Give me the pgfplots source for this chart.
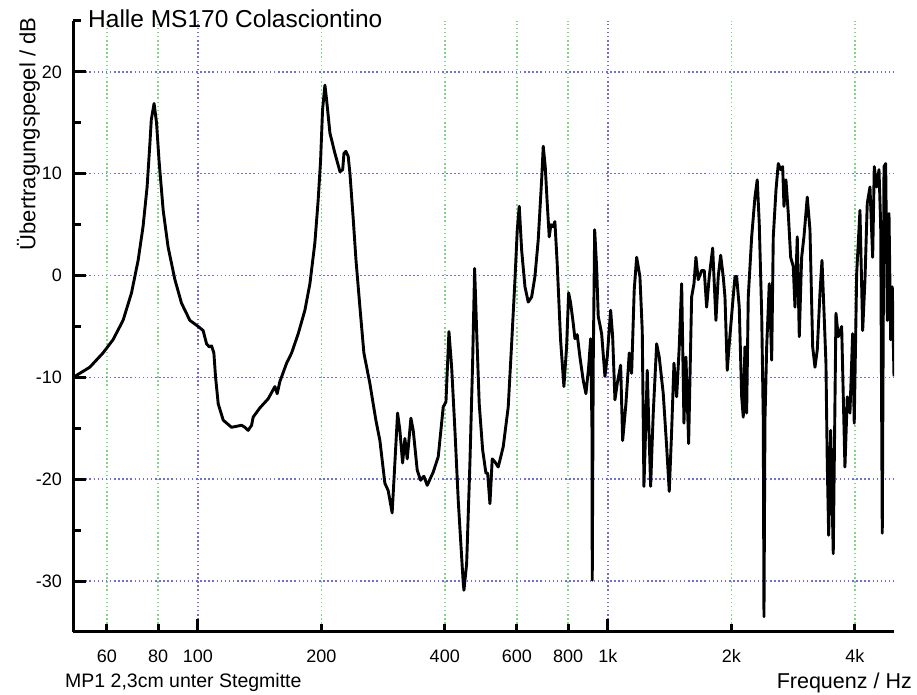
\documentclass[border=0pt]{standalone}
\usepackage{fontspec}
\setmainfont{Liberation Sans}
\usepackage{pgfplots}
\pgfplotsset{compat=1.18}
\definecolor{gridblue}{RGB}{110,110,225}
\definecolor{gridgreen}{RGB}{130,215,130}
\begin{document}
\begin{tikzpicture}
\useasboundingbox (-73pt,-63pt) rectangle (844pt,632pt);
\begin{axis}[
  at={(0pt,0pt)}, anchor=south west,
  scale only axis, width=821pt, height=611pt,
  xmode=log, xmin=49.6, xmax=4985, ymin=-35, ymax=25,
  axis x line=bottom, axis y line=left,
  axis line style={-, line width=3pt, black},
  tick align=inside,
  tick style={line width=3pt, black},
  major tick length=13pt, minor tick length=8pt,
  xtick={100,1000}, xticklabels={100,1k},
  minor xtick={60,80,200,400,600,800,2000,4000},
  extra x ticks={60,80,200,400,600,800,2000,4000},
  extra x tick labels={60,80,200,400,600,800,2k,4k},
  extra x tick style={grid=none, tick style={draw=none}},
  ytick={-30,-20,-10,0,10,20}, yticklabels={-30,-20,-10,0,10,20},
  minor ytick={-25,-15,-5,5,15,25},
  xmajorgrids=true, xminorgrids=true, ymajorgrids=true, yminorgrids=false,
  major grid style={gridblue, line width=1.5pt, dash pattern=on 1.5pt off 2.6pt},
  minor grid style={gridgreen, line width=1.5pt, dash pattern=on 1.5pt off 2.6pt},
  ticklabel style={font=\fontsize{18}{21}\selectfont},
  xticklabel style={anchor=base, inner sep=0pt, yshift=-30pt},
  yticklabel style={anchor=east, inner sep=0pt, xshift=-11pt},
]
\addplot[black, line width=2.9pt, line join=round, mark=none] table {
50.1 -9.9
54.5 -9.0
58.7 -7.6
62.1 -6.3
65.7 -4.4
68.9 -1.7
71.5 1.5
73.5 4.8
75.2 8.7
76.4 13.0
77.0 15.3
78.2 16.9
79.3 15.0
80.4 11.3
82.3 6.4
84.6 2.8
87.9 -0.4
91.2 -2.7
95.6 -4.4
100.2 -5.0
103.0 -5.4
105.0 -6.7
106.6 -7.0
108.0 -6.9
109.4 -7.6
110.4 -9.9
112.1 -12.6
115.3 -14.2
120.8 -14.9
127.8 -14.7
130.2 -14.9
132.6 -15.2
135.2 -14.7
136.4 -13.9
141.6 -13.0
148.4 -12.1
154.1 -10.9
156.1 -11.6
158.5 -10.4
164.6 -8.6
169.3 -7.6
175.7 -5.7
182.4 -3.4
187.6 -0.8
192.9 3.2
196.5 7.4
199.2 11.3
201.4 16.3
204.1 18.7
206.1 17.2
209.9 14.0
215.9 12.0
222.1 10.2
225.5 10.4
227.1 12.0
229.6 12.2
232.6 11.7
234.9 10.0
239.3 5.5
243.0 1.5
248.4 -3.1
254.0 -7.6
262.7 -10.6
271.7 -14.2
277.9 -16.2
285.8 -20.4
291.1 -21.1
297.7 -23.3
302.3 -18.4
306.9 -13.5
310.9 -15.2
315.7 -18.4
319.8 -16.0
324.0 -18.0
330.8 -14.0
335.1 -15.2
342.7 -19.1
349.3 -20.1
355.8 -19.7
362.5 -20.6
374.9 -19.3
385.6 -17.8
396.6 -12.9
402.7 -12.4
409.5 -5.5
415.8 -9.0
423.5 -15.2
431.5 -22.1
437.3 -26.0
443.6 -30.1
445.5 -30.9
452.3 -28.3
460.7 -18.4
467.7 -8.6
473.0 0.7
478.4 -5.4
485.4 -12.6
494.8 -17.1
504.0 -19.4
508.9 -19.4
515.5 -22.4
522.2 -18.0
530.2 -18.3
540.1 -18.8
555.5 -16.8
571.3 -12.9
582.3 -6.7
593.3 -0.4
601.0 4.5
607.8 6.8
616.0 2.5
627.6 -1.1
639.3 -2.6
651.6 -2.1
663.7 -0.1
676.1 3.5
689.2 9.4
695.4 12.7
703.3 10.7
711.2 7.1
719.2 3.8
726.1 5.0
735.5 4.8
742.5 5.3
752.1 1.2
766.6 -6.3
781.0 -10.9
793.0 -7.0
801.9 -1.7
811.0 -2.7
823.0 -4.7
830.8 -6.2
841.6 -5.8
854.5 -8.0
870.6 -10.3
883.8 -11.6
897.3 -9.0
907.5 -6.2
914.2 -15.0
915.7 -29.9
920.8 -8.6
928.2 4.5
938.5 0.8
947.0 -4.0
965.2 -5.7
983.3 -9.9
996.1 -8.0
1015.3 -3.4
1026.8 -6.0
1040.1 -12.2
1053.6 -10.6
1074.0 -8.8
1086.1 -16.2
1106.3 -12.6
1127.1 -7.6
1142.3 -9.6
1159.0 -1.4
1174.9 1.8
1196.7 -0.1
1212.5 -5.4
1224.0 -20.7
1235.6 -15.2
1247.0 -9.3
1258.9 -15.2
1270.9 -20.7
1289.7 -13.5
1314.6 -6.7
1333.9 -8.0
1364.3 -11.6
1390.6 -16.8
1411.0 -21.2
1430.3 -15.2
1448.8 -8.6
1471.0 -11.9
1492.5 -7.0
1512.9 -0.8
1532.5 -14.5
1549.6 -8.0
1573.3 -16.5
1600.0 -2.1
1621.1 -0.8
1639.1 1.8
1660.4 -0.4
1692.4 0.5
1717.5 0.5
1740.6 -3.1
1766.5 -0.1
1800.6 2.7
1834.1 -4.4
1857.9 -0.1
1883.3 2.0
1910.8 -0.1
1929.4 -2.1
1954.4 -9.3
1976.6 -6.7
2014.4 -2.7
2040.9 -0.1
2060.3 -0.1
2090.4 -3.1
2119.0 -11.9
2138.0 -13.9
2158.3 -7.0
2179.2 -13.5
2198.9 -2.1
2241.3 3.8
2283.0 7.7
2312.6 9.4
2338.9 5.1
2370.9 -3.7
2392.3 -14.2
2401.7 -33.5
2415.0 -14.2
2438.5 -7.0
2474.1 -0.8
2507.9 -8.3
2530.6 3.8
2569.3 8.4
2602.6 11.0
2637.6 10.4
2667.5 10.7
2687.2 6.8
2717.1 9.4
2753.0 6.1
2790.0 1.8
2830.8 0.9
2858.3 -3.1
2895.4 3.8
2928.2 -6.0
2967.6 1.8
3006.1 3.8
3062.7 7.7
3109.6 4.5
3157.2 -7.0
3198.2 -9.0
3239.7 -7.3
3289.3 -1.7
3326.6 1.5
3363.6 -3.4
3401.7 -8.6
3426.9 -18.4
3453.8 -25.5
3493.0 -15.2
3544.0 -27.3
3598.3 -3.7
3645.0 -6.0
3715.4 -5.0
3784.4 -18.8
3834.4 -11.9
3892.2 -13.5
3951.8 -5.7
3987.5 -14.5
4042.0 0.2
4117.2 6.4
4180.3 -5.4
4234.6 -0.4
4289.5 7.1
4355.2 8.7
4421.9 1.8
4461.8 10.7
4522.8 8.7
4581.5 10.4
4625.0 5.0
4666.7 -25.3
4712.0 10.7
4756.7 11.0
4799.6 -4.4
4846.2 6.1
4892.1 -6.3
4936.2 -1.1
4984.2 -9.9
};
\end{axis}
\node[anchor=base west, inner sep=0pt, font=\fontsize{24.5}{28}\selectfont] at (15pt,604pt) {Halle MS170 Colasciontino};
\node[rotate=90, anchor=center, inner sep=0pt, font=\fontsize{22}{26}\selectfont] at (-44.5pt,498pt) {Übertragungspegel / dB};
\node[anchor=base west, inner sep=0pt, font=\fontsize{19.5}{23}\selectfont] at (-8pt,-55pt) {MP1 2,3cm unter Stegmitte};
\node[anchor=base east, inner sep=0pt, font=\fontsize{21.5}{25}\selectfont] at (839pt,-56pt) {Frequenz / Hz};
\end{tikzpicture}
\end{document}
